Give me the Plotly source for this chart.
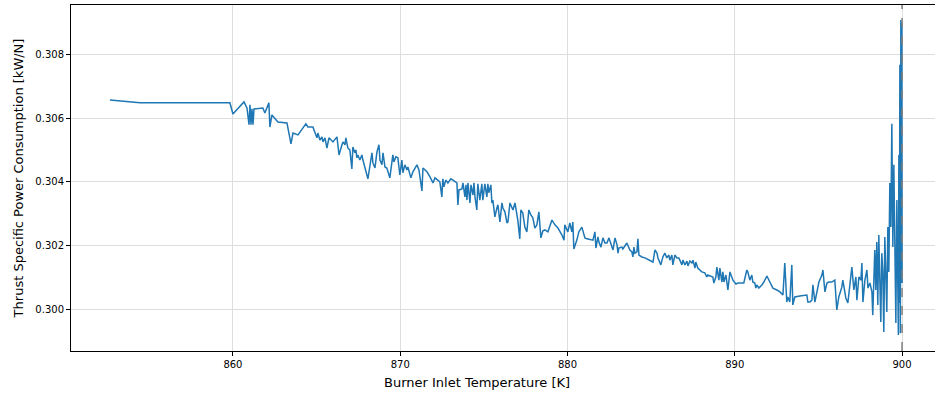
import plotly.graph_objects as go

temperature_K = [
    852.65, 854.44, 858.03, 859.82, 860.00, 860.66, 860.84, 860.96, 861.02, 861.08,
    861.14, 861.20, 861.26, 861.79, 861.91, 862.15, 862.21, 862.33, 862.69, 863.23,
    863.47, 863.59, 863.89, 864.36, 864.48, 864.78, 864.96, 865.02, 865.08, 865.20,
    865.32, 865.38, 865.50, 865.62, 865.74, 865.92, 865.98, 866.22, 866.34, 866.52,
    866.58, 866.70, 866.75, 866.87, 866.99, 867.11, 867.17, 867.29, 867.35, 867.41,
    867.47, 867.59, 867.71, 867.77, 867.89, 868.07, 868.31, 868.37, 868.49, 868.61,
    868.73, 868.79, 868.91, 868.97, 869.09, 869.20, 869.38, 869.56, 869.62, 869.74,
    869.86, 869.98, 870.10, 870.16, 870.28, 870.40, 870.46, 870.64, 870.76, 870.88,
    871.00, 871.12, 871.30, 871.36, 871.48, 871.60, 871.78, 871.96, 872.08, 872.25,
    872.37, 872.49, 872.55, 872.61, 872.73, 872.85, 873.03, 873.15, 873.39, 873.45,
    873.51, 873.69, 873.75, 873.87, 873.93, 873.99, 874.05, 874.17, 874.23, 874.35,
    874.41, 874.47, 874.58, 874.64, 874.76, 874.88, 874.94, 875.06, 875.18, 875.24,
    875.30, 875.42, 875.48, 875.54, 875.66, 875.78, 875.84, 875.96, 876.08, 876.14,
    876.26, 876.38, 876.44, 876.56, 876.68, 876.74, 876.86, 876.97, 877.03, 877.15,
    877.21, 877.33, 877.45, 877.57, 877.69, 877.81, 877.93, 878.05, 878.17, 878.29,
    878.41, 878.53, 878.65, 878.83, 879.07, 879.25, 879.43, 879.67, 879.79, 879.84,
    880.02, 880.14, 880.26, 880.32, 880.38, 880.56, 880.68, 880.86, 881.04, 881.16,
    881.52, 881.64, 881.70, 881.82, 881.88, 882.00, 882.12, 882.24, 882.36, 882.48,
    882.66, 882.72, 882.84, 882.96, 883.02, 883.07, 883.25, 883.31, 883.55, 883.61,
    883.73, 883.85, 883.91, 883.97, 884.03, 884.15, 884.21, 884.27, 884.45, 884.63,
    884.93, 885.11, 885.23, 885.35, 885.41, 885.58, 885.70, 885.82, 885.94, 886.06,
    886.12, 886.24, 886.30, 886.42, 886.54, 886.66, 886.84, 886.90, 887.02, 887.14,
    887.20, 887.32, 887.44, 887.50, 887.62, 887.67, 887.79, 887.91, 888.03, 888.21,
    888.33, 888.39, 888.51, 888.69, 888.75, 888.87, 888.93, 889.05, 889.11, 889.23,
    889.29, 889.35, 889.47, 889.59, 889.71, 889.83, 889.89, 890.07, 890.19, 890.54,
    890.72, 890.78, 890.90, 891.02, 891.08, 891.20, 891.26, 891.32, 891.44, 891.62,
    891.74, 891.92, 892.10, 892.28, 892.52, 892.70, 892.88, 892.99, 893.11, 893.17,
    893.29, 893.41, 893.47, 893.59, 893.89, 894.31, 894.37, 894.49, 894.61, 894.67,
    894.79, 894.91, 895.03, 895.21, 895.27, 895.39, 895.51, 895.62, 895.80, 895.98,
    896.10, 896.22, 896.40, 896.46, 896.64, 896.76, 896.88, 897.00, 897.12, 897.24,
    897.30, 897.42, 897.54, 897.60, 897.66, 897.78, 897.90, 897.96, 898.08, 898.20,
    898.25, 898.37, 898.43, 898.49, 898.55, 898.61, 898.73, 898.79, 898.85, 898.91,
    898.97, 899.09, 899.15, 899.21, 899.27, 899.33, 899.39, 899.45, 899.51, 899.57,
    899.63, 899.69, 899.75, 899.78, 899.81, 899.84, 899.87, 899.90, 899.93, 899.96,
    899.99, 900.00,
]

tspc_kW_per_N = [
    0.30658, 0.30649, 0.30649, 0.30649, 0.30614, 0.30652, 0.30633, 0.30580, 0.30643, 0.30580,
    0.30630, 0.30580, 0.30630, 0.30633, 0.30617, 0.30649, 0.30573, 0.30611, 0.30589, 0.30586,
    0.30520, 0.30554, 0.30548, 0.30583, 0.30573, 0.30573, 0.30548, 0.30539, 0.30554, 0.30532,
    0.30542, 0.30526, 0.30539, 0.30507, 0.30539, 0.30529, 0.30526, 0.30542, 0.30485, 0.30517,
    0.30526, 0.30517, 0.30539, 0.30507, 0.30501, 0.30441, 0.30510, 0.30492, 0.30501, 0.30476,
    0.30485, 0.30469, 0.30485, 0.30469, 0.30444, 0.30410, 0.30492, 0.30460, 0.30444, 0.30495,
    0.30517, 0.30469, 0.30454, 0.30492, 0.30447, 0.30444, 0.30413, 0.30485, 0.30463, 0.30479,
    0.30476, 0.30422, 0.30469, 0.30429, 0.30454, 0.30438, 0.30447, 0.30413, 0.30432, 0.30444,
    0.30454, 0.30438, 0.30372, 0.30444, 0.30438, 0.30432, 0.30416, 0.30397, 0.30413, 0.30406,
    0.30400, 0.30353, 0.30410, 0.30385, 0.30406, 0.30397, 0.30410, 0.30406, 0.30397, 0.30328,
    0.30375, 0.30378, 0.30397, 0.30353, 0.30391, 0.30343, 0.30397, 0.30334, 0.30391, 0.30359,
    0.30397, 0.30353, 0.30312, 0.30394, 0.30343, 0.30394, 0.30343, 0.30394, 0.30353, 0.30394,
    0.30366, 0.30391, 0.30334, 0.30343, 0.30290, 0.30318, 0.30328, 0.30274, 0.30334, 0.30318,
    0.30306, 0.30271, 0.30274, 0.30334, 0.30318, 0.30312, 0.30334, 0.30296, 0.30280, 0.30221,
    0.30312, 0.30302, 0.30258, 0.30243, 0.30312, 0.30296, 0.30287, 0.30255, 0.30265, 0.30306,
    0.30224, 0.30246, 0.30249, 0.30243, 0.30280, 0.30265, 0.30255, 0.30233, 0.30217, 0.30265,
    0.30243, 0.30271, 0.30243, 0.30274, 0.30189, 0.30217, 0.30243, 0.30258, 0.30224, 0.30221,
    0.30217, 0.30243, 0.30192, 0.30227, 0.30211, 0.30195, 0.30224, 0.30208, 0.30208, 0.30224,
    0.30195, 0.30186, 0.30224, 0.30202, 0.30176, 0.30192, 0.30195, 0.30189, 0.30208, 0.30202,
    0.30186, 0.30180, 0.30164, 0.30195, 0.30176, 0.30180, 0.30221, 0.30170, 0.30164, 0.30161,
    0.30154, 0.30148, 0.30186, 0.30176, 0.30161, 0.30139, 0.30164, 0.30176, 0.30161, 0.30170,
    0.30154, 0.30170, 0.30139, 0.30170, 0.30161, 0.30161, 0.30139, 0.30154, 0.30139, 0.30151,
    0.30136, 0.30151, 0.30145, 0.30154, 0.30129, 0.30148, 0.30129, 0.30123, 0.30117, 0.30114,
    0.30101, 0.30107, 0.30104, 0.30101, 0.30082, 0.30101, 0.30132, 0.30091, 0.30129, 0.30085,
    0.30117, 0.30085, 0.30107, 0.30060, 0.30117, 0.30101, 0.30091, 0.30079, 0.30082, 0.30082,
    0.30123, 0.30117, 0.30091, 0.30107, 0.30085, 0.30082, 0.30066, 0.30076, 0.30066, 0.30076,
    0.30085, 0.30104, 0.30085, 0.30066, 0.30060, 0.30054, 0.30044, 0.30145, 0.30022, 0.30038,
    0.30022, 0.30139, 0.30013, 0.30038, 0.30041, 0.30044, 0.30022, 0.30022, 0.30028, 0.30076,
    0.30022, 0.30060, 0.30085, 0.30107, 0.30123, 0.30054, 0.30082, 0.30085, 0.30085, 0.30091,
    0.29997, 0.30038, 0.30069, 0.30091, 0.30035, 0.30019, 0.30082, 0.30132, 0.30060, 0.30101,
    0.30028, 0.30101, 0.30091, 0.30145, 0.30022, 0.30091, 0.30123, 0.30066, 0.30082, 0.30054,
    0.29981, 0.30186, 0.30060, 0.30211, 0.30013, 0.30233, 0.29959, 0.30176, 0.30117, 0.29928,
    0.30227, 0.29991, 0.30258, 0.30117, 0.30397, 0.30258, 0.30583, 0.30195, 0.30454, 0.30249,
    0.29956, 0.30343, 0.30019, 0.29918, 0.30485, 0.30019, 0.30769, 0.29924, 0.30910, 0.30082,
    0.30901, 0.30082,
]

max_temperature_K = 900
x_tick_values = [860, 870, 880, 890, 900]
y_tick_values = [0.300, 0.302, 0.304, 0.306, 0.308]
x_title = "Burner Inlet Temperature [K]"
y_title = "Thrust Specific Power Consumption [kW/N]"

fig = go.Figure()
fig.add_trace(go.Scatter(
    x=temperature_K, y=tspc_kW_per_N, mode="lines",
    line=dict(color="#1f77b4", width=1.5), showlegend=False,
))
fig.add_vline(x=max_temperature_K, line=dict(color="#7f7f7f", width=1.5, dash="dash"))

axis_font = dict(family="DejaVu Sans", size=10, color="black")
fig.update_layout(
    width=935, height=395,
    margin=dict(l=71, r=0, t=5, b=44),
    paper_bgcolor="white", plot_bgcolor="white",
    font=dict(family="DejaVu Sans", color="black"),
    xaxis=dict(
        range=[850.32, 901.97], tickvals=x_tick_values,
        ticktext=[str(v) for v in x_tick_values],
        showline=True, linecolor="black", linewidth=1, mirror=True,
        ticks="outside", ticklen=4, tickcolor="black",
        showgrid=True, gridcolor="#dedede", gridwidth=1, zeroline=False,
        tickfont=axis_font,
    ),
    yaxis=dict(
        range=[0.29868, 0.30957], tickvals=y_tick_values,
        ticktext=[f"{v:.3f}" for v in y_tick_values],
        showline=True, linecolor="black", linewidth=1,
        ticks="outside", ticklen=4, tickcolor="black",
        showgrid=True, gridcolor="#dedede", gridwidth=1, zeroline=False,
        tickfont=axis_font,
        title=dict(text=y_title, font=dict(family="DejaVu Sans", size=13), standoff=8),
    ),
    annotations=[dict(
        text=x_title, xref="paper", yref="paper", x=0.47, y=0,
        xanchor="center", yanchor="top", yshift=-22, showarrow=False,
        font=dict(family="DejaVu Sans", size=13, color="black"),
    )],
)
fig.write_html("out.html")
